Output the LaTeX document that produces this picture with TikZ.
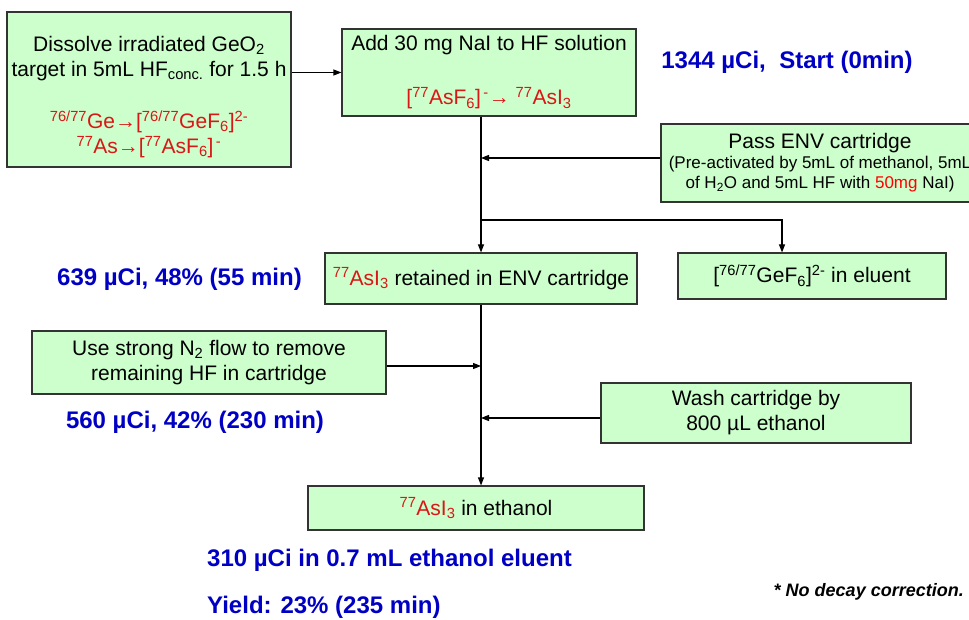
\documentclass[tikz,border=0pt]{standalone}
\usepackage{fontspec}
\setmainfont{Liberation Sans}
\usetikzlibrary{arrows.meta}
\definecolor{boxgreen}{RGB}{204,255,204}
\definecolor{chemred}{RGB}{218,22,22}
\definecolor{dosered}{RGB}{255,0,0}
\definecolor{actblue}{RGB}{0,0,196}
\newcommand{\chem}[1]{\textcolor{chemred}{#1}}
\newcommand{\sups}[1]{\textsuperscript{#1}}
\newcommand{\subs}[1]{\textsubscript{#1}}

\begin{document}
\begin{tikzpicture}[
  x=1pt, y=-1pt,
  >={Triangle[length=8pt,width=6pt]},
  font=\fontsize{21}{25}\selectfont,
  stepbox/.style={draw=black!80, line width=1.1pt, fill=boxgreen, align=center, inner sep=0pt},
  activity/.style={font=\fontsize{24}{28}\selectfont\bfseries, text=actblue, inner sep=0pt},
  flow/.style={->, line width=1.1pt}
]
\useasboundingbox (0,0) rectangle (969,620);

% DISSOLUTION STEP
\node[stepbox, minimum width=284pt, minimum height=155pt] (dissolve) at (149,89.5)
  {\rule{0pt}{31pt}Dissolve irradiated GeO\subs{2}\\target in 5mL HF\subs{conc.} for 1.5 h\\[27pt]
   \chem{\sups{76/77}Ge→[\sups{76/77}GeF\subs{6}]\sups{2-}}\\
   \chem{\sups{77}As→[\sups{77}AsF\subs{6}]\sups{\,-}}};
\node[stepbox, minimum width=294pt, minimum height=87pt] (naI) at (489,72.5)
  {Add 30 mg NaI to HF solution\\[29pt]
   \chem{[\sups{77}AsF\subs{6}]\sups{\,-}→ \sups{77}AsI\subs{3}}};
\node[activity] (start) at (787,62) {1344 µCi,\ \ Start (0min)};
\draw[flow] (dissolve.east |- naI.west) -- (naI.west);

% CARTRIDGE STEP
\coordinate (spine) at (481,0);
\coordinate (split) at (481,220);
\node[stepbox, minimum width=318pt, minimum height=78pt, font=\fontsize{17}{20}\selectfont] (env) at (820,163)
  {{\fontsize{21}{23}\selectfont Pass ENV cartridge}\\
   (Pre-activated by 5mL of methanol, 5mL\\
   of H\subs{2}O and 5mL HF with \textcolor{dosered}{50mg} NaI)};
\node[stepbox, minimum width=312pt, minimum height=51pt] (ret) at (481,278.5)
  {\chem{\sups{77}AsI\subs{3}} retained in ENV cartridge};
\node[stepbox, minimum width=268pt, minimum height=46pt] (elu) at (812,276)
  {[\sups{76/77}GeF\subs{6}]\sups{2-} in eluent};
\node[activity] (act55) at (179.5,279) {639 µCi, 48\% (55 min)};
\draw[flow] (naI.south -| spine) -- (ret.north -| spine);
\draw[flow] ([yshift=5pt]env.west) -- ([yshift=5pt]env.west -| spine);
\draw[flow] (split) -| ([xshift=-30pt]elu.north);

% ELUTION STEP
\node[stepbox, minimum width=354pt, minimum height=63pt] (n2) at (209,362.5)
  {Use strong N\subs{2} flow to remove\\remaining HF in cartridge};
\node[stepbox, minimum width=310pt, minimum height=60pt] (wash) at (756,413)
  {Wash cartridge by\\800 µL ethanol};
\node[stepbox, minimum width=336pt, minimum height=44pt] (fin) at (476,508)
  {\chem{\sups{77}AsI\subs{3}} in ethanol};
\node[activity] (act230) at (195,422) {560 µCi, 42\% (230 min)};
\draw[flow] (ret.south -| spine) -- (fin.north -| spine);
\draw[flow] ([yshift=-3.5pt]n2.east) -- ([yshift=-3.5pt]n2.east -| spine);
\draw[flow] ([yshift=-5pt]wash.west) -- ([yshift=-5pt]wash.west -| spine);

% RESULT
\node[activity, anchor=west] (act235) at (207,560) {310 µCi in 0.7 mL ethanol eluent};
\node[activity, anchor=west] (yield) at (207,607) {Yield: 23\% (235 min)};
\node[font=\fontsize{18}{20}\selectfont\bfseries\itshape, anchor=east, inner sep=0pt] (note) at (964,592)
  {* No decay correction.};

\end{tikzpicture}
\end{document}
